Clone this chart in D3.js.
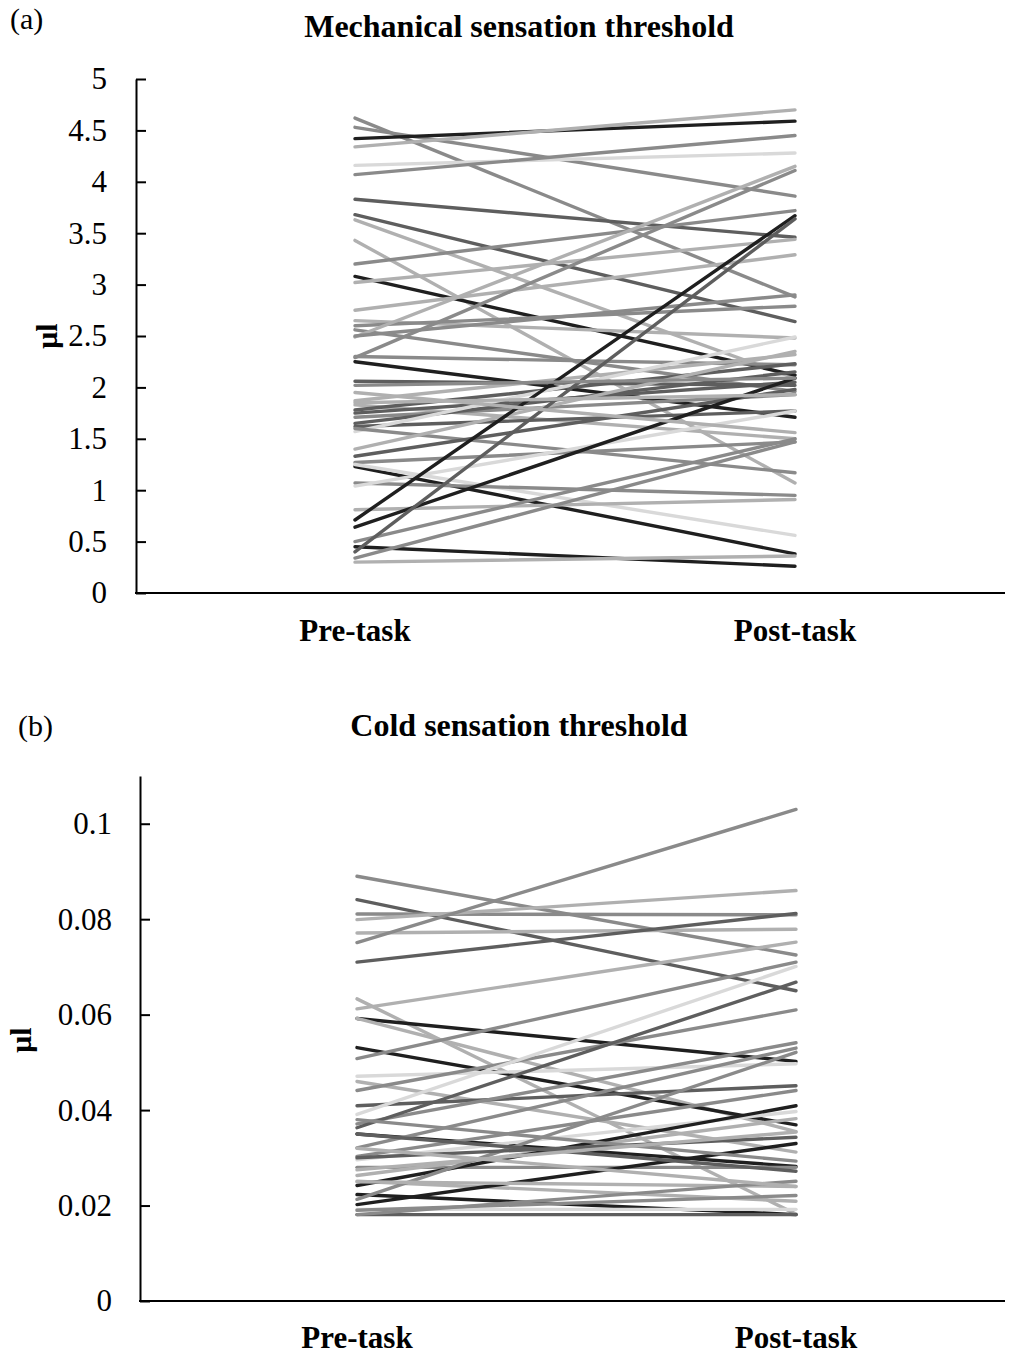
<!DOCTYPE html>
<html>
<head>
<meta charset="utf-8">
<script src="https://cdn.jsdelivr.net/npm/d3@7"></script>
<style>
  body { margin: 0; background: #fff; }
  svg text { font-family: "Liberation Serif", "Times New Roman", serif; fill: #000; }
</style>
</head>
<body>
<div id="chart"></div>
<script>
// categories shared by both panels
const phases = ["Pre-task", "Post-task"];

// (a) mechanical sensation threshold, one entry per participant
const mechPre = [4.62, 4.53, 4.42, 4.34, 4.16, 4.07, 3.83, 3.68, 3.63, 3.43, 3.20, 3.08, 3.02, 2.75, 2.65, 2.60, 2.56, 2.49, 2.29, 2.50, 2.30, 2.25, 2.06, 1.87, 1.83, 1.78, 1.75, 1.71, 1.65, 1.62, 1.57, 1.60, 1.40, 1.33, 1.27, 1.23, 1.25, 1.07, 1.04, 0.81, 0.71, 0.64, 0.50, 0.45, 0.40, 0.34, 0.30, 1.95, 2.02, 1.85];
const mechPost = [2.88, 3.86, 4.59, 4.70, 4.28, 4.45, 3.46, 2.64, 2.09, 1.07, 3.72, 2.12, 3.44, 3.29, 2.48, 2.79, 1.96, 4.15, 4.11, 2.90, 2.22, 1.71, 2.02, 2.32, 1.50, 2.23, 2.05, 1.93, 2.15, 1.77, 2.49, 1.17, 2.35, 1.98, 1.47, 0.38, 0.56, 0.95, 1.77, 0.91, 3.67, 2.09, 1.50, 0.26, 3.64, 1.47, 0.36, 1.56, 2.09, 1.93];

// (b) cold sensation threshold
const coldPre = [0.0890, 0.0841, 0.0811, 0.0799, 0.0771, 0.0751, 0.0710, 0.0633, 0.0612, 0.0592, 0.0592, 0.0531, 0.0508, 0.0471, 0.0460, 0.0441, 0.0409, 0.0391, 0.0371, 0.0363, 0.0350, 0.0321, 0.0303, 0.0296, 0.0280, 0.0263, 0.0251, 0.0242, 0.0223, 0.0213, 0.0202, 0.0192, 0.0181, 0.0300, 0.0350, 0.0380, 0.0250, 0.0190, 0.0181, 0.0275, 0.0320];
const coldPost = [0.0725, 0.0650, 0.0809, 0.0860, 0.0779, 0.1030, 0.0812, 0.0182, 0.0752, 0.0502, 0.0355, 0.0369, 0.0710, 0.0497, 0.0312, 0.0610, 0.0451, 0.0701, 0.0541, 0.0668, 0.0282, 0.0530, 0.0441, 0.0397, 0.0280, 0.0382, 0.0209, 0.0409, 0.0181, 0.0521, 0.0330, 0.0192, 0.0181, 0.0343, 0.0272, 0.0293, 0.0240, 0.0221, 0.0251, 0.0354, 0.0240];

const mechTicks = [0, 0.5, 1, 1.5, 2, 2.5, 3, 3.5, 4, 4.5, 5];
const coldTicks = [0, 0.02, 0.04, 0.06, 0.08, 0.1];

// grey level of each participant's line (k black ... v very light)
const mechShade = ["g", "g", "k", "l", "v", "g", "d", "d", "l", "l", "g", "k", "l", "l", "l", "g", "g", "l", "g", "g",
  "g", "k", "d", "l", "l", "d", "d", "g", "d", "d", "v", "g", "l", "d", "g", "k", "v", "g", "v", "l",
  "k", "k", "g", "k", "d", "g", "l", "l", "g", "l"];
const coldShade = ["g", "d", "g", "l", "l", "g", "d", "l", "l", "k", "l", "k", "g", "v", "l", "g", "d", "v", "g", "d",
  "k", "g", "g", "v", "g", "l", "l", "k", "k", "g", "k", "v", "d", "d", "d", "g", "l", "g", "g", "l", "l"];
const grays = { k: "#1f1f1f", d: "#5e5e5e", g: "#8a8a8a", l: "#b0b0b0", v: "#d9d9d9" };

const serif = '"Liberation Serif", "Times New Roman", serif';
const width = 1009, height = 1355;
const svg = d3.select("#chart").append("svg")
  .attr("width", width).attr("height", height)
  .attr("viewBox", [0, 0, width, height]);

function panel({ tag, title, pre, post, shade, ticks, yMax, box }) {
  const g = svg.append("g");
  const y = d3.scaleLinear().domain([0, yMax]).range([box.bottom, box.top]);
  const x = d3.scalePoint().domain(phases).range([box.pre, box.post]);

  g.append("text").attr("x", box.tagX).attr("y", box.titleY)
    .attr("font-size", 30).text(tag);
  g.append("text").attr("x", 519).attr("y", box.titleY + box.titleDy)
    .attr("text-anchor", "middle").attr("font-size", 32).attr("font-weight", "bold").text(title);

  const rows = pre.map((v, i) => ({ pre: v, post: post[i], shade: shade[i] }));
  g.selectAll("line.subject")
    .data(rows)
    .join("line")
    .attr("class", "subject")
    .attr("x1", x("Pre-task")).attr("x2", x("Post-task"))
    .attr("y1", (d) => y(d.pre)).attr("y2", (d) => y(d.post))
    .attr("stroke", (d) => grays[d.shade])
    .attr("stroke-width", 3.4)
    .attr("stroke-linecap", "round");

  const axis = g.append("g")
    .attr("transform", `translate(${box.left},0)`)
    .call(d3.axisLeft(y).tickValues(ticks).tickFormat(d3.format("~g"))
      .tickSizeInner(-10).tickSizeOuter(0).tickPadding(box.pad))
    .attr("font-family", serif);
  axis.select(".domain").attr("stroke", "#000").attr("stroke-width", 2);
  axis.selectAll(".tick line").attr("stroke", "#000").attr("stroke-width", 2);
  axis.selectAll(".tick text").attr("font-size", 31).style("font-family", serif);

  g.append("line")
    .attr("x1", box.left - 1).attr("x2", 1005)
    .attr("y1", y(0)).attr("y2", y(0))
    .attr("stroke", "#000").attr("stroke-width", 2);

  g.selectAll("text.phase")
    .data(phases)
    .join("text")
    .attr("class", "phase")
    .attr("x", (d) => x(d)).attr("y", box.labelY)
    .attr("text-anchor", "middle").attr("font-size", 31).attr("font-weight", "bold")
    .text((d) => d);

  g.append("text")
    .attr("transform", `translate(${box.unitX},${box.unitY}) rotate(-90)`)
    .attr("text-anchor", "middle").attr("font-size", 30).attr("font-weight", "bold")
    .text("μl");
}

panel({
  tag: "(a)", title: "Mechanical sensation threshold",
  pre: mechPre, post: mechPost, shade: mechShade, ticks: mechTicks, yMax: 5,
  box: { left: 136, top: 79, bottom: 593, pre: 355, post: 795, pad: 29,
         tagX: 10, titleY: 29, titleDy: 8, labelY: 641, unitX: 57, unitY: 336 }
});

panel({
  tag: "(b)", title: "Cold sensation threshold",
  pre: coldPre, post: coldPost, shade: coldShade, ticks: coldTicks, yMax: 0.11,
  box: { left: 140, top: 776, bottom: 1301, pre: 357, post: 796, pad: 28,
         tagX: 18, titleY: 736, titleDy: 0, labelY: 1348, unitX: 31, unitY: 1040 }
});
</script>
</body>
</html>
